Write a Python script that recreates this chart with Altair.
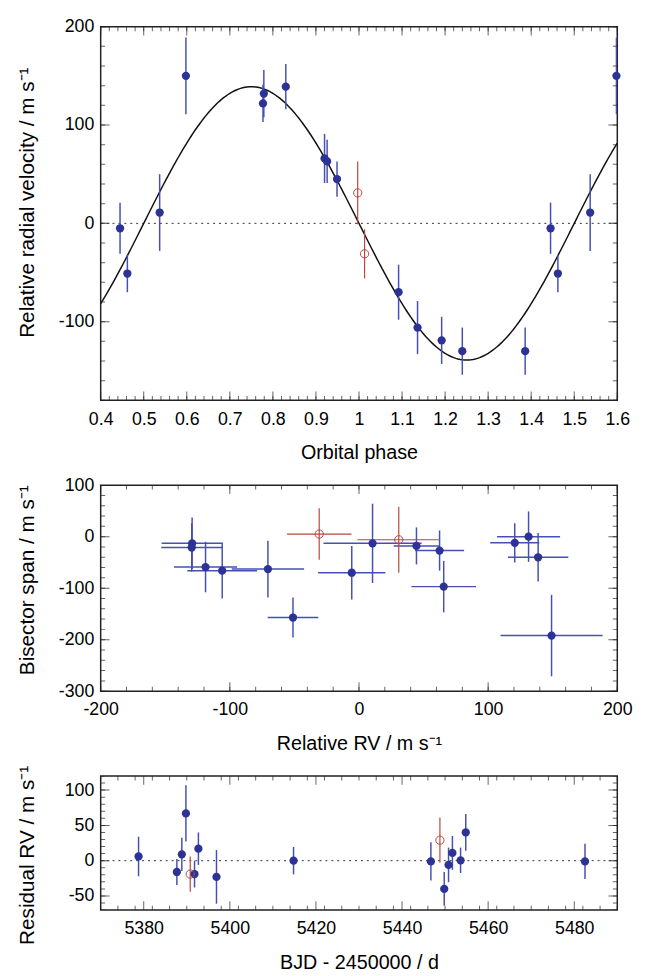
import altair as alt
import pandas as pd
import numpy as np

# ---------------- Panel 1: RV vs orbital phase ----------------
PH_BLUE = [0.445, 0.462, 0.537, 0.598, 0.779, 0.777, 0.830, 0.920, 0.926, 0.949,
           1.092, 1.136, 1.192, 1.240, 1.386, 1.445, 1.462, 1.537, 1.598]
RV_BLUE = [-5, -51, 11, 150, 132, 122, 139, 66, 63, 45,
           -70, -106, -119, -130, -130, -5, -51, 11, 150]
RVERR_BLUE = [26, 19, 39, 39, 24, 19, 23, 25, 22, 18,
              28, 27, 24, 24, 24, 26, 19, 39, 39]
PH_RED = [0.997, 1.013]
RV_RED = [31, -31]
RVERR_RED = [32, 25]
K_FIT = 139  # semi-amplitude of the fitted orbit (m/s)

# ---------------- Panel 2: bisector span vs RV ----------------
BS_RV_BLUE = [-129.2, -129.5, -118.8, -105.9, -70.5, -51.1, -5.6, 10.5, 44.5, 62.4,
              65.6, 120.6, 131.3, 138.7, 149.1]
BS_RVERR_BLUE = [23.6, 23.6, 24.4, 27, 28, 19.6, 26, 38, 17.6, 19,
                 25, 19, 24.4, 23.4, 39.5]
BS_BLUE = [-13, -21, -59, -66, -63, -157, -70, -13, -18, -27,
           -97, -12, 0, -40, -192]
BS_ERR_BLUE = [50, 47, 49, 54, 55, 39, 52, 77, 36, 39,
               50, 38, 49, 47, 79]
BS_RV_RED = [-30.8, 30.8]
BS_RVERR_RED = [25, 32]
BS_RED = [5, -6]
BS_ERR_RED = [50, 64]

# ---------------- Panel 3: residuals vs time ----------------
T_BLUE = [5378.8, 5387.7, 5388.85, 5389.8, 5391.8, 5392.7, 5396.9, 5414.8,
          5446.7, 5449.8, 5450.8, 5451.7, 5453.6, 5454.8, 5482.5]
RES_BLUE = [6, -16, 9, 67, -19, 17, -23, 0, -1, -40, -6, 11, 0.5, 40, -1]
RESERR_BLUE = [28, 18.5, 23.6, 40, 19, 23, 38, 19.4, 27, 24, 24.5, 24, 18, 26, 25]
T_RED = [5390.8, 5448.8]
RES_RED = [-19, 29]
RESERR_RED = [25, 32]

# ---------------- tick definitions ----------------
P1_X_MAJOR = [0.4, 0.5, 0.6, 0.7, 0.8, 0.9, 1.0, 1.1, 1.2, 1.3, 1.4, 1.5, 1.6]
P1_Y_MAJOR = [-100, 0, 100, 200]
P2_X_MAJOR = [-200, -100, 0, 100, 200]
P2_Y_MAJOR = [-300, -200, -100, 0, 100]
P3_X_MAJOR = [5380, 5400, 5420, 5440, 5460, 5480]
P3_Y_MAJOR = [-50, 0, 50, 100]

BLUE = "#2c3394"
BLUE_BAR = "#4650b4"
RED = "#b8463f"
FONT = "Liberation Sans"
W = 524
DOT = 70

LABEL_EXPR = "(datum.value < 0 ? '-' : '') + format(abs(datum.value), '~g')"


def minor(lo, hi, step):
    n = int(round((hi - lo) / step))
    return [round(lo + i * step, 6) for i in range(n + 1)]


def xaxis(title, values):
    return alt.Axis(title=title, values=values, domain=False, ticks=False, grid=False,
                    labelPadding=10, titlePadding=13, minExtent=30, maxExtent=30,
                    labelFlush=False, labelOverlap=False, labelExpr=LABEL_EXPR)


def yaxis(title, values, title_y):
    return alt.Axis(title=title, values=values, domain=False, ticks=False, grid=False,
                    labelPadding=7, titlePadding=6, minExtent=58, maxExtent=58,
                    labelFlush=False, labelOverlap=False, labelExpr=LABEL_EXPR,
                    titleFontSize=21, titleY=title_y)


def tick_layers(xmaj, xmin, ymaj, ymin, X, Y, H):
    xdf = pd.DataFrame({"v": xmaj + xmin, "len": [18] * len(xmaj) + [9] * len(xmin)})
    ydf = pd.DataFrame({"v": ymaj + ymin, "len": [18] * len(ymaj) + [9] * len(ymin)})
    layers = []
    for yv in (0, H):
        layers.append(alt.Chart(xdf).mark_tick(orient="vertical", clip=True, color="#222",
                                               thickness=1).encode(
            x=X("v:Q"), y=alt.value(yv),
            size=alt.Size("len:Q", scale=None, legend=None)))
    for xv in (0, W):
        layers.append(alt.Chart(ydf).mark_tick(orient="horizontal", clip=True, color="#222",
                                               thickness=1).encode(
            y=Y("v:Q"), x=alt.value(xv),
            size=alt.Size("len:Q", scale=None, legend=None)))
    return layers


def make_xy(domx, domy, xtitle, ytitle, xvals, yvals, title_y):
    xs = alt.Scale(domain=domx, nice=False, zero=False)
    ys = alt.Scale(domain=domy, nice=False, zero=False)
    ax = xaxis(xtitle, xvals)
    ay = yaxis(ytitle, yvals, title_y)

    def X(f):
        return alt.X(f, scale=xs, axis=ax)

    def Y(f):
        return alt.Y(f, scale=ys, axis=ay)
    return X, Y


zero = pd.DataFrame({"y": [0]})

# ================= Panel 1 =================
H1 = 379
X1, Y1 = make_xy([0.4, 1.6], [-180, 200], "Orbital phase",
                 "Relative radial velocity / m s⁻¹", P1_X_MAJOR, P1_Y_MAJOR, 178)
b1 = pd.DataFrame({"x": PH_BLUE, "y": RV_BLUE, "e": RVERR_BLUE})
r1 = pd.DataFrame({"x": PH_RED, "y": RV_RED, "e": RVERR_RED})
for d in (b1, r1):
    d["lo"], d["hi"] = d.y - d.e, d.y + d.e
phase_grid = np.linspace(0.4, 1.6, 241)
curve = pd.DataFrame({"x": phase_grid, "y": -K_FIT * np.sin(2 * np.pi * phase_grid)})

p1_layers = [
    alt.Chart(zero).mark_rule(color="#333", strokeDash=[2, 4], strokeWidth=1).encode(y=Y1("y:Q")),
    alt.Chart(curve).mark_line(color="#111", strokeWidth=1.5, clip=True).encode(
        x=X1("x:Q"), y=Y1("y:Q")),
    alt.Chart(b1).mark_rule(color=BLUE_BAR, strokeWidth=1.5).encode(
        x=X1("x:Q"), y=Y1("lo:Q"), y2="hi:Q"),
    alt.Chart(r1).mark_rule(color=RED, strokeWidth=1.2).encode(
        x=X1("x:Q"), y=Y1("lo:Q"), y2="hi:Q"),
    alt.Chart(b1).mark_circle(color=BLUE, size=DOT, opacity=1).encode(x=X1("x:Q"), y=Y1("y:Q")),
    alt.Chart(r1).mark_point(shape="circle", filled=False, color=RED, size=DOT,
                             strokeWidth=1, opacity=1).encode(x=X1("x:Q"), y=Y1("y:Q")),
] + tick_layers(P1_X_MAJOR, minor(0.4, 1.6, 0.02), P1_Y_MAJOR, minor(-180, 200, 20), X1, Y1, H1)
p1 = alt.layer(*p1_layers).properties(width=W, height=H1)

# ================= Panel 2 =================
H2 = 209
X2, Y2 = make_xy([-200, 200], [-300, 100], "Relative RV / m s⁻¹",
                 "Bisector span / m s⁻¹", P2_X_MAJOR, P2_Y_MAJOR, 96)
b2 = pd.DataFrame({"x": BS_RV_BLUE, "ex": BS_RVERR_BLUE, "y": BS_BLUE, "ey": BS_ERR_BLUE})
r2 = pd.DataFrame({"x": BS_RV_RED, "ex": BS_RVERR_RED, "y": BS_RED, "ey": BS_ERR_RED})
for d in (b2, r2):
    d["xlo"], d["xhi"] = d.x - d.ex, d.x + d.ex
    d["ylo"], d["yhi"] = d.y - d.ey, d.y + d.ey

p2_layers = []
for d, col, sw in ((b2, BLUE_BAR, 1.5), (r2, RED, 1.2)):
    p2_layers.append(alt.Chart(d).mark_rule(color=col, strokeWidth=sw).encode(
        x=X2("x:Q"), y=Y2("ylo:Q"), y2="yhi:Q"))
    p2_layers.append(alt.Chart(d).mark_rule(color=col, strokeWidth=sw).encode(
        x=X2("xlo:Q"), x2="xhi:Q", y=Y2("y:Q")))
p2_layers += [
    alt.Chart(b2).mark_circle(color=BLUE, size=DOT, opacity=1).encode(x=X2("x:Q"), y=Y2("y:Q")),
    alt.Chart(r2).mark_point(shape="circle", filled=False, color=RED, size=DOT,
                             strokeWidth=1, opacity=1).encode(x=X2("x:Q"), y=Y2("y:Q")),
] + tick_layers(P2_X_MAJOR, minor(-200, 200, 20), P2_Y_MAJOR, minor(-300, 100, 20), X2, Y2, H2)
p2 = alt.layer(*p2_layers).properties(width=W, height=H2)

# ================= Panel 3 =================
H3 = 136
X3, Y3 = make_xy([5370, 5490], [-70, 120], "BJD - 2450000 / d",
                 "Residual RV / m s⁻¹", P3_X_MAJOR, P3_Y_MAJOR, 80)
b3 = pd.DataFrame({"x": T_BLUE, "y": RES_BLUE, "e": RESERR_BLUE})
r3 = pd.DataFrame({"x": T_RED, "y": RES_RED, "e": RESERR_RED})
for d in (b3, r3):
    d["lo"], d["hi"] = d.y - d.e, d.y + d.e

p3_layers = [
    alt.Chart(zero).mark_rule(color="#333", strokeDash=[2, 4], strokeWidth=1).encode(y=Y3("y:Q")),
    alt.Chart(b3).mark_rule(color=BLUE_BAR, strokeWidth=1.5).encode(
        x=X3("x:Q"), y=Y3("lo:Q"), y2="hi:Q"),
    alt.Chart(r3).mark_rule(color=RED, strokeWidth=1.2).encode(
        x=X3("x:Q"), y=Y3("lo:Q"), y2="hi:Q"),
    alt.Chart(b3).mark_circle(color=BLUE, size=DOT, opacity=1).encode(x=X3("x:Q"), y=Y3("y:Q")),
    alt.Chart(r3).mark_point(shape="circle", filled=False, color=RED, size=DOT,
                             strokeWidth=1, opacity=1).encode(x=X3("x:Q"), y=Y3("y:Q")),
] + tick_layers(P3_X_MAJOR, minor(5370, 5490, 4), P3_Y_MAJOR, minor(-70, 120, 10), X3, Y3, H3)
p3 = alt.layer(*p3_layers).properties(width=W, height=H3)

chart = alt.vconcat(p1, p2, p3, spacing=86, bounds="flush").properties(
    padding={"left": 8, "top": 2, "right": 5, "bottom": 2}
).configure_view(
    stroke="#222", strokeWidth=1.5
).configure_axis(
    labelFont=FONT, titleFont=FONT, labelFontSize=18, titleFontSize=20,
    labelColor="black", titleColor="black", titleFontWeight="normal"
)

chart.save("out.html", embed_options={"renderer": "svg", "actions": False})
